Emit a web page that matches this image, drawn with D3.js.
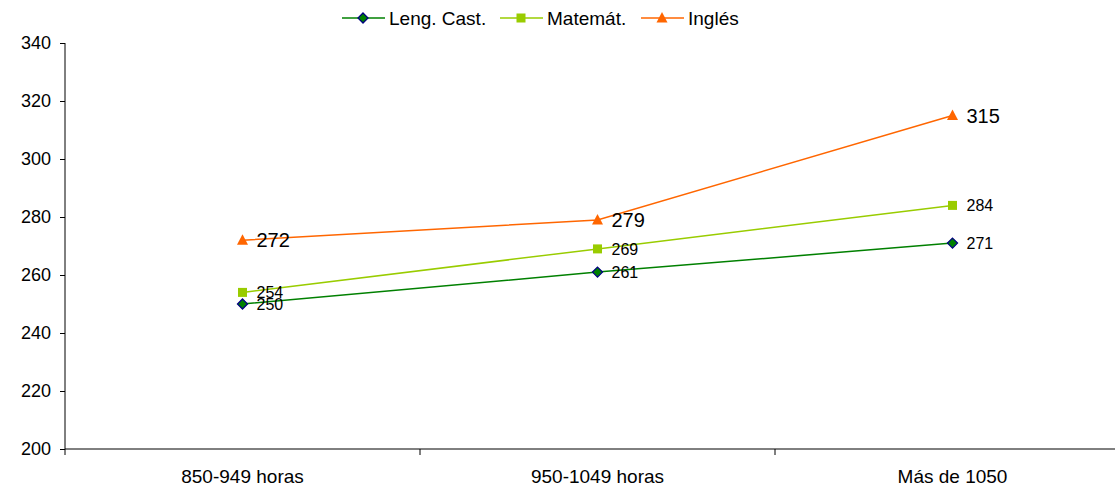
<!DOCTYPE html>
<html>
<head>
<meta charset="utf-8">
<script src="https://cdn.jsdelivr.net/npm/d3@7"></script>
<style>
  body { margin: 0; background: #fff; }
  svg { display: block; font-family: "Liberation Sans", Arial, sans-serif; }
</style>
</head>
<body>
<div id="chart"></div>
<script>
const categories = ["850-949 horas", "950-1049 horas", "Más de 1050"];
const lengCast = [250, 261, 271];
const matemat = [254, 269, 284];
const ingles = [272, 279, 315];
const yTicks = [200, 220, 240, 260, 280, 300, 320, 340];

const series = [
    { name: "Leng. Cast.", values: lengCast, color: "#008000", marker: "diamond", labelSize: 16 },
    { name: "Matemát.", values: matemat, color: "#99cc00", marker: "square", labelSize: 16 },
    { name: "Inglés", values: ingles, color: "#ff6600", marker: "triangle", labelSize: 20 }
];

const width = 1115, height = 490;
const plot = { left: 65, right: 1130, top: 43, bottom: 449 };

const svg = d3.select("#chart").append("svg")
    .attr("width", width).attr("height", height);

const xScale = d3.scaleBand().domain(categories).range([plot.left, plot.right]);
const yScale = d3.scaleLinear().domain([200, 340]).range([plot.bottom, plot.top]);

// y axis
const yAxis = svg.append("g")
    .attr("transform", `translate(${plot.left},0)`)
    .call(d3.axisLeft(yScale).tickValues(yTicks).tickSize(5).tickPadding(9));
yAxis.select(".domain").attr("d", `M0,${plot.top}V${plot.bottom + 6}`).attr("stroke", "#000");
yAxis.selectAll(".tick line").attr("stroke", "#000");
yAxis.selectAll("text").attr("font-size", 18).attr("fill", "#000")
    .attr("font-family", "Liberation Sans, Arial, sans-serif");

// x axis
const xAxis = svg.append("g")
    .attr("transform", `translate(0,${plot.bottom})`)
    .call(d3.axisBottom(xScale).tickSize(0).tickPadding(21));
xAxis.select(".domain").attr("d", `M${plot.left},0H${plot.right}`).attr("stroke", "#000");
xAxis.selectAll("text").attr("font-size", 19).attr("fill", "#000")
    .attr("font-family", "Liberation Sans, Arial, sans-serif");
// tick marks between categories
svg.append("g").selectAll("line")
    .data(categories.slice(1))
    .join("line")
    .attr("x1", d => xScale(d)).attr("x2", d => xScale(d))
    .attr("y1", plot.bottom).attr("y2", plot.bottom + 6)
    .attr("stroke", "#000");

const cx = (i) => xScale(categories[i]) + xScale.bandwidth() / 2;

function drawMarker(g, type, color) {
    if (type === "diamond") {
        g.append("path").attr("d", "M0,-5L5,0L0,5L-5,0Z")
            .attr("fill", "#008000").attr("stroke", "#000080").attr("stroke-width", 1.3);
    } else if (type === "square") {
        g.append("rect").attr("x", -4.5).attr("y", -4.5).attr("width", 9).attr("height", 9)
            .attr("fill", color);
    } else {
        g.append("path").attr("d", "M0,-6L5.5,4.5L-5.5,4.5Z").attr("fill", color);
    }
}

const line = d3.line().x((d, i) => cx(i)).y(d => yScale(d));

series.forEach(s => {
    svg.append("path")
        .datum(s.values)
        .attr("d", line)
        .attr("fill", "none")
        .attr("stroke", s.color)
        .attr("stroke-width", 1.5);
});

series.forEach(s => {
    s.values.forEach((v, i) => {
        const g = svg.append("g").attr("transform", `translate(${cx(i)},${yScale(v)})`);
        drawMarker(g, s.marker, s.color);
    });
});

series.forEach(s => {
    s.values.forEach((v, i) => {
        svg.append("text")
            .attr("x", cx(i) + 14)
            .attr("y", yScale(v))
            .attr("dy", "0.36em")
            .attr("font-size", s.labelSize)
            .attr("fill", "#000")
            .text(v);
    });
});

// legend
const legendX = [342, 500, 641];
series.forEach((s, i) => {
    const g = svg.append("g").attr("transform", `translate(${legendX[i]},18)`);
    g.append("line").attr("x1", 0).attr("x2", 43).attr("stroke", s.color).attr("stroke-width", 1.5);
    const m = g.append("g").attr("transform", "translate(21,0)");
    drawMarker(m, s.marker, s.color);
    g.append("text").attr("x", 47).attr("dy", "0.36em").attr("font-size", 19).attr("fill", "#000").text(s.name);
});
</script>
</body>
</html>
